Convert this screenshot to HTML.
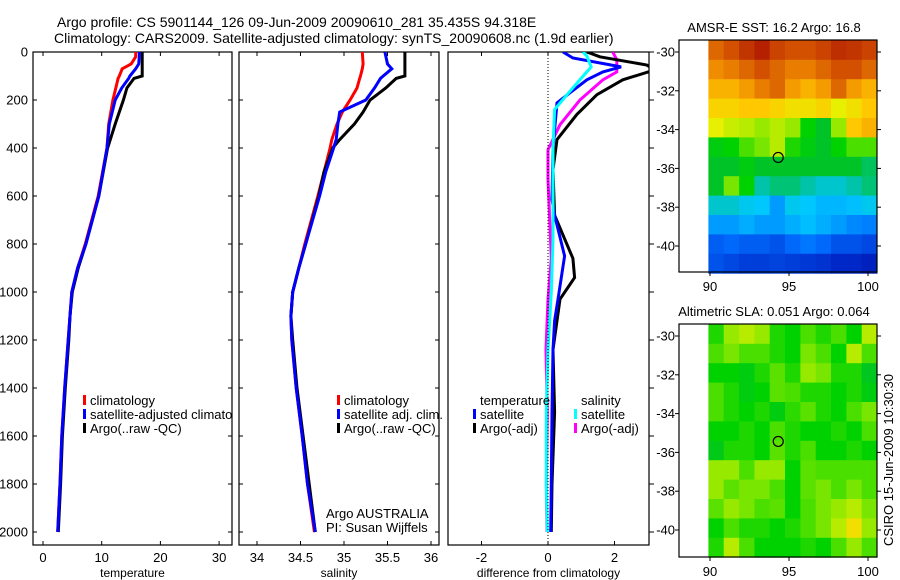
<!DOCTYPE html>
<html><head><meta charset="utf-8"><style>
html,body{margin:0;padding:0;background:#fff;}
svg{display:block;font-family:"Liberation Sans",sans-serif;}
</style></head><body>
<svg id="fig" width="900" height="580" viewBox="0 0 900 580" xmlns="http://www.w3.org/2000/svg">
<text x="57" y="27" font-size="14">Argo profile: CS 5901144_126 09-Jun-2009 20090610_281 35.435S 94.318E</text>
<text x="54" y="43" font-size="14">Climatology: CARS2009. Satellite-adjusted climatology: synTS_20090608.nc (1.9d earlier)</text>
<g id="plots"></g>
</svg>
<script>
// ---- data ----
const tempDepth = [0,20,50,70,100,110,150,200,300,400,600,800,900,1000,1100,1200,1400,1600,1800,2000];
const tempClim = [15.8,15.8,15,13.5,13,12.8,12.4,11.9,11.2,10.9,9.4,7.2,5.9,4.9,4.6,4.3,3.7,3.2,2.9,2.5];
const tempSat = [16.4,16.4,16.3,15.8,14.8,14.6,13.4,12.3,11.3,10.9,9.5,7.3,5.9,4.9,4.6,4.3,3.7,3.2,2.9,2.5];
const tempArgo = [16.9,16.9,16.9,16.9,16.9,15.5,14.3,13.7,12.3,11.0,9.5,7.3,6.0,5.0,4.6,4.4,3.8,3.3,3.0,2.6];
const salDepth = [0,50,70,100,110,150,200,250,300,365,400,500,600,800,900,1000,1100,1200,1400,1600,1800,2000];
const salClim = [35.21,35.22,35.21,35.19,35.18,35.15,35.07,34.98,34.92,34.86,34.84,34.77,34.7,34.55,34.48,34.41,34.39,34.4,34.45,34.52,34.58,34.66];
const salSat = [35.47,35.5,35.55,35.45,35.42,35.35,35.25,34.95,34.93,34.91,34.88,34.79,34.72,34.56,34.48,34.41,34.39,34.4,34.45,34.52,34.58,34.67];
const salArgo = [35.70,35.70,35.70,35.70,35.6,35.48,35.3,35.22,35.12,34.95,34.87,34.77,34.71,34.56,34.48,34.41,34.39,34.41,34.46,34.53,34.6,34.67];
const dTsatDepth = [0,25,62,83,116,170,212,400,614,680,850,1030,1120,1240,1500,1800,2000];
const dTsat = [0.45,0.75,2.2,1.65,1.17,0.66,0.27,0.15,0.12,0.2,0.5,0.3,0.2,0.15,0.12,0.1,0.08];
const dTargoDepth = [0,20,54,75,116,178,260,365,490,680,860,940,1030,1240,1500,1800,2000];
const dTargo = [1.17,1.56,2.97,3.2,2.25,1.47,0.87,0.27,0.15,0.2,0.75,0.8,0.36,0.15,0.2,0.12,0.1];
const dSsatDepth = [0,17,62,116,178,240,400,780,1000,1240,1500,1800,2000];
const dSsat = [1.05,1.17,1.3,0.96,0.57,0.2,0.15,0.15,0.1,0,-0.05,-0.05,-0.02];
const dSargoDepth = [0,33,83,116,200,303,407,530,860,1030,1240,1500,1800,2000];
const dSargo = [1.95,2.07,2.07,1.65,0.96,0.36,0,0,0.1,0,-0.06,-0.02,-0.05,-0.03];
const depthTicks = [0,200,400,600,800,1000,1200,1400,1600,1800,2000];
const tempTicks = [0,10,20,30];
const salTicks = [34,34.5,35,35.5,36];
const diffTicks = [-2,0,2];
const latTicks = [-30,-32,-34,-36,-38,-40];
const lonTicks = [90,95,100];
const sstGrid = [
[0.85,0.88,0.92,0.95,0.9,0.88,0.88,0.9,0.93,0.92,0.9],
[0.8,0.82,0.85,0.88,0.85,0.82,0.82,0.85,0.88,0.88,0.85],
[0.75,0.75,0.78,0.82,0.85,0.78,0.75,0.78,0.85,0.78,0.75],
[0.7,0.7,0.72,0.72,0.7,0.68,0.68,0.7,0.65,0.68,0.72],
[0.65,0.63,0.62,0.6,0.62,0.6,0.5,0.45,0.6,0.72,0.75],
[0.48,0.5,0.55,0.58,0.62,0.52,0.48,0.45,0.5,0.55,0.55],
[0.45,0.45,0.48,0.45,0.45,0.45,0.45,0.45,0.45,0.45,0.43],
[0.45,0.58,0.5,0.4,0.42,0.42,0.4,0.38,0.38,0.4,0.42],
[0.38,0.38,0.36,0.35,0.3,0.36,0.35,0.33,0.33,0.34,0.36],
[0.3,0.3,0.32,0.3,0.3,0.32,0.34,0.32,0.3,0.28,0.27],
[0.22,0.24,0.22,0.22,0.2,0.24,0.26,0.24,0.2,0.2,0.18],
[0.2,0.18,0.16,0.16,0.17,0.16,0.15,0.14,0.12,0.12,0.1]];
const slaGrid = [
[0.52,0.6,0.62,0.6,0.52,0.5,0.55,0.52,0.55,0.5,0.62],
[0.55,0.58,0.55,0.55,0.52,0.5,0.58,0.55,0.5,0.62,0.55],
[0.5,0.5,0.48,0.52,0.56,0.52,0.6,0.58,0.52,0.52,0.46],
[0.55,0.52,0.48,0.5,0.56,0.55,0.52,0.52,0.5,0.52,0.48],
[0.55,0.52,0.5,0.52,0.48,0.53,0.56,0.52,0.5,0.55,0.58],
[0.5,0.5,0.52,0.5,0.55,0.52,0.5,0.5,0.52,0.5,0.55],
[0.47,0.52,0.52,0.5,0.56,0.52,0.55,0.5,0.5,0.52,0.5],
[0.6,0.6,0.55,0.6,0.6,0.5,0.56,0.55,0.55,0.55,0.55],
[0.6,0.56,0.58,0.58,0.55,0.5,0.56,0.58,0.55,0.58,0.55],
[0.56,0.6,0.58,0.55,0.56,0.5,0.55,0.58,0.6,0.62,0.58],
[0.5,0.55,0.52,0.52,0.5,0.52,0.55,0.58,0.62,0.68,0.6],
[0.52,0.62,0.55,0.5,0.5,0.5,0.52,0.5,0.55,0.6,0.55]];

const NS='http://www.w3.org/2000/svg';
const root=document.getElementById('plots');
function mk(tag,attrs,parent){const e=document.createElementNS(NS,tag);for(const k in attrs)e.setAttribute(k,attrs[k]);(parent||root).appendChild(e);return e;}
function lin(d0,d1,r0,r1){return v=>r0+(v-d0)/(d1-d0)*(r1-r0);}
const yDepth=lin(0,2000,52,532);
const axTop=52,axBot=545;

function profilePanel(name,left,right,xs,ticks,xlabel,series,rightTicksOutside,fmt){
  const g=mk('g',{});
  
  
  const cid='clip-'+name;
  const cp=mk('clipPath',{id:cid},g);mk('rect',{x:left,y:axTop,width:right-left,height:axBot-axTop},cp);
  const box=mk('rect',{x:left,y:axTop,width:right-left,height:axBot-axTop,fill:'none',stroke:'#000','stroke-width':1.2},g);
  
  
  depthTicks.forEach(d=>{const y=yDepth(d);
    if(rightTicksOutside){mk('line',{x1:right,x2:right+5,y1:y,y2:y,stroke:'#000'},g);}
    else{mk('line',{x1:left,x2:left+4,y1:y,y2:y,stroke:'#000'},g);mk('line',{x1:right-4,x2:right,y1:y,y2:y,stroke:'#000'},g);}
  });
  ticks.forEach(t=>{const x=xs(t);
    mk('line',{x1:x,x2:x,y1:axBot,y2:axBot-4,stroke:'#000'},g);mk('line',{x1:x,x2:x,y1:axTop,y2:axTop+4,stroke:'#000'},g);
    const tl=mk('text',{x:x,y:562,'font-size':13,'text-anchor':'middle'},g);tl.textContent=fmt?fmt(t):String(t);
    
    
  });
  const xl=mk('text',{x:(left+right)/2,y:577,'font-size':12,'text-anchor':'middle'},g);xl.textContent=xlabel;
  
  
  const lg=mk('g',{'clip-path':'url(#'+cid+')'},g);
  series.forEach(s=>{
    const pts=s.depth.map((d,i)=>xs(s.vals[i]).toFixed(1)+','+yDepth(d).toFixed(1)).join(' ');
    const pl=mk('polyline',{points:pts,fill:'none',stroke:s.color,'stroke-width':3,'stroke-linejoin':'miter'},lg);
    
    
  });
  return g;
}
depthTicks.forEach(d=>{const t=mk('text',{x:28,y:yDepth(d)+4.5,'font-size':13,'text-anchor':'end'});t.textContent=String(d);
  
  });

const xT=lin(0,10,43,101.7);
profilePanel('temperature',33,232,xT,tempTicks,'temperature',[
 {name:'temp-climatology-line',color:'#ff0000',depth:tempDepth,vals:tempClim},
 {name:'temp-argo-line',color:'#000000',depth:tempDepth,vals:tempArgo},
 {name:'temp-satellite-line',color:'#0000ff',depth:tempDepth,vals:tempSat}],false);
const xS=lin(34,36,257,431);
profilePanel('salinity',239,439,xS,salTicks,'salinity',[
 {name:'sal-climatology-line',color:'#ff0000',depth:salDepth,vals:salClim},
 {name:'sal-argo-line',color:'#000000',depth:salDepth,vals:salArgo},
 {name:'sal-satellite-line',color:'#0000ff',depth:salDepth,vals:salSat}],false);
const xD=lin(-2,2,481.5,614.5);
profilePanel('difference',448,649,xD,diffTicks,'difference from climatology',[
 {name:'diff-sal-argo-line',color:'#ff00ff',depth:dSargoDepth,vals:dSargo},
 {name:'diff-temp-argo-line',color:'#000000',depth:dTargoDepth,vals:dTargo},
 {name:'diff-temp-sat-line',color:'#0000ff',depth:dTsatDepth,vals:dTsat},
 {name:'diff-sal-sat-line',color:'#00ffff',depth:dSsatDepth,vals:dSsat}],true);
const zl=mk('line',{x1:xD(0),x2:xD(0),y1:axTop,y2:axBot,stroke:'#000','stroke-dasharray':'1,2'});



const cpL=mk('clipPath',{id:'clip-leg1'});mk('rect',{x:33,y:380,width:199,height:60},cpL);
function legend(name,x,y,items,clip){
  const g=mk('g',{});
  
  
  if(clip)g.setAttribute('clip-path','url(#'+clip+')');
  items.forEach((it,i)=>{const yy=y+i*14;
    if(it.color)mk('rect',{x:x,y:yy-10,width:3,height:10,fill:it.color},g);
    const t=mk('text',{x:x+7,y:yy,'font-size':13},g);t.textContent=it.label;
    
    
  });
}
legend('temperature-legend',83,405,[{color:'#f00',label:'climatology'},{color:'#00f',label:'satellite-adjusted climatology'},{color:'#000',label:'Argo(..raw -QC)'}],'clip-leg1');
legend('salinity-legend',337,405,[{color:'#f00',label:'climatology'},{color:'#00f',label:'satellite adj. clim.'},{color:'#000',label:'Argo(..raw -QC)'}]);
legend('diff-temp-legend',473,405,[{color:null,label:'temperature'},{color:'#00f',label:'satellite'},{color:'#000',label:'Argo(-adj)'}]);
legend('diff-sal-legend',574,405,[{color:null,label:'salinity'},{color:'#0ff',label:'satellite'},{color:'#f0f',label:'Argo(-adj)'}]);
const ag=mk('text',{x:326,y:518,'font-size':13});ag.textContent='Argo AUSTRALIA';


const pi=mk('text',{x:326,y:532,'font-size':13});pi.textContent='PI: Susan Wijffels';



const stops=[[0,[0,0,140]],[0.12,[0,40,200]],[0.25,[0,110,255]],[0.35,[0,200,255]],[0.4,[0,195,170]],[0.45,[0,195,40]],[0.5,[0,210,0]],[0.58,[120,230,0]],[0.65,[230,240,0]],[0.72,[255,200,0]],[0.8,[240,140,0]],[0.88,[210,80,0]],[1,[160,0,0]]];
function cmap(v){for(let i=1;i<stops.length;i++){if(v<=stops[i][0]){const a=stops[i-1],b=stops[i];const f=(v-a[0])/(b[0]-a[0]);
  const c=a[1].map((ch,k)=>Math.round(ch+(b[1][k]-ch)*f));return 'rgb('+c.join(',')+')';}}return 'rgb(160,0,0)';}

function mapPanel(name,boxTop,boxBot,grid,title){
  const g=mk('g',{});
  
  
  const left=679,right=877;
  const xL=lin(90,100,710,868);
  const yL=lin(-30,-40,boxTop+12,boxTop+12+194);
  const lon0=89.9,lon1=100.57,lat0=-29.4,lat1=-41.4;
  const nr=grid.length,nc=grid[0].length;
  grid.forEach((row,r)=>row.forEach((v,c)=>{
    const la=lat0+(lat1-lat0)*r/nr,lb=lat0+(lat1-lat0)*(r+1)/nr;
    const oa=lon0+(lon1-lon0)*c/nc,ob=lon0+(lon1-lon0)*(c+1)/nc;
    const x=xL(oa),y=yL(la);
    const cell=mk('rect',{x:x.toFixed(1),y:y.toFixed(1),width:(xL(ob)-x+0.5).toFixed(1),height:(yL(lb)-y+0.5).toFixed(1),fill:cmap(v)},g);
    
    
  }));
  mk('rect',{x:left,y:boxTop,width:right-left,height:boxBot-boxTop,fill:'none',stroke:'#000','stroke-width':1.2},g);
  latTicks.forEach(l=>{const y=yL(l);mk('line',{x1:left-4,x2:left,y1:y,y2:y,stroke:'#000'},g);mk('line',{x1:right,x2:right+4,y1:y,y2:y,stroke:'#000'},g);
    const t=mk('text',{x:left-4,y:y+4.5,'font-size':13,'text-anchor':'end'},g);t.textContent=String(l);
    
    });
  lonTicks.forEach(l=>{const x=xL(l);mk('line',{x1:x,x2:x,y1:boxBot,y2:boxBot+4,stroke:'#000'},g);
    const t=mk('text',{x:x,y:boxBot+19,'font-size':13,'text-anchor':'middle'},g);t.textContent=String(l);
    
    });
  const c=mk('circle',{cx:xL(94.318),cy:yL(-35.435),r:5,fill:'none',stroke:'#000','stroke-width':1.2},g);
  
  
  const tt=mk('text',{x:774,y:boxTop-8,'font-size':13,'text-anchor':'middle'},g);tt.textContent=title;
  
  
}
mapPanel('sst-map',40,272,sstGrid,'AMSR-E SST: 16.2 Argo: 16.8');
mapPanel('sla-map',324,557,slaGrid,'Altimetric SLA: 0.051 Argo: 0.064');
const cs=mk('text',{x:0,y:0,'font-size':13,'text-anchor':'middle',transform:'translate(893,460) rotate(-90)'});cs.textContent='CSIRO 15-Jun-2009 10:30:30';


</script>
</body></html>
